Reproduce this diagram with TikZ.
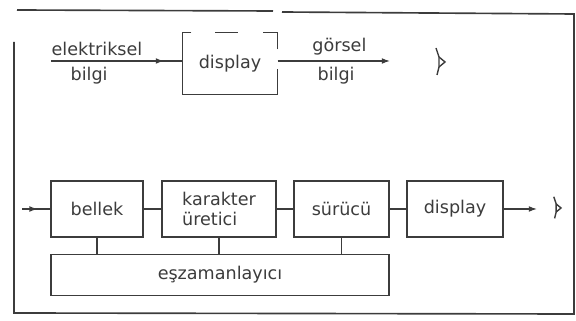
\documentclass[tikz,border=0pt]{standalone}
\usepackage{fontspec}
\setmainfont{DejaVu Sans}
\usepackage{xcolor}
\definecolor{ink}{RGB}{60,60,60}
\usetikzlibrary{arrows.meta,positioning,decorations.markings}

\begin{document}
\begin{tikzpicture}[x=0.03cm,y=-0.03cm,color=ink,line width=1.1pt,
    font=\fontsize{15}{17}\selectfont,
    blok/.style={draw,minimum height=1.68cm,inner sep=2pt},
    ok/.style={-{Latex[length=7pt,width=5pt]}},
    okorta/.style={postaction={decorate},decoration={markings,mark=at position #1 with {\arrow{Latex[length=7pt,width=5pt]}}}},
    goz/.pic={\draw[line width=1.2pt] (-4,-14) -- (-1,-5) -- (-1,5) -- (-3,13);
              \draw[line width=1.2pt] (-1,-5) -- (5,0) -- (-1,5);}]
  \useasboundingbox (0,0) rectangle (576,321);
  % cerceve
  \draw[line width=1.4pt] (17,10) -- (273,11);
  \draw[line width=1.4pt] (282,12) -- (574,14) -- (574,314) -- (14,313) -- (14,42);
  % ust satir
  \node[minimum width=2.82cm,minimum height=1.83cm] (disp1) at (230,63.5) {display};
  \draw ([xshift=0.27cm]disp1.north west) -- (disp1.north west) -- (disp1.south west)
    -- (disp1.south east) -- ([yshift=0.78cm]disp1.south east);
  \draw ([yshift=-0.51cm]disp1.north east) -- (disp1.north east) -- ([xshift=-0.45cm]disp1.north east);
  \draw ([xshift=-0.45cm]disp1.north) -- ([xshift=0.24cm]disp1.north);
  \coordinate (girdi) at (51,61);
  \coordinate (cikti) at (390,61);
  \draw[okorta=0.86] (girdi) -- (girdi -| disp1.west)
    node[pos=0.35,above=1pt]{elektriksel} node[pos=0.29,below=1pt]{bilgi};
  \draw[ok] (disp1.east |- cikti) -- (cikti)
    node[pos=0.55,above=1pt]{görsel} node[pos=0.52,below=1pt]{bilgi};
  \pic at (440,62) {goz};
  % alt satir
  \node[blok,minimum width=2.76cm] (bellek) at (97,209) {bellek};
  \node[blok,minimum width=3.42cm,align=left] (karakter) at (219,209) {karakter\\üretici};
  \node[blok,minimum width=2.85cm] (surucu) at (341.5,209) {sürücü};
  \node[blok,minimum width=2.88cm] (disp2) at (455,209) {display};
  \node[draw,minimum width=10.14cm,minimum height=1.23cm] (esz) at (220,275) {eşzamanlayıcı};
  \coordinate (giris) at (22,209);
  \coordinate (cikis) at (537,209);
  \draw[okorta=0.55] (giris) -- (bellek.west);
  \draw (bellek) -- (karakter);
  \draw (karakter) -- (surucu);
  \draw (surucu) -- (disp2);
  \draw[ok] (disp2.east) -- (cikis);
  \foreach \b in {bellek,karakter,surucu}
    \draw (\b.south) -- (\b.south |- esz.north);
  \pic[scale=0.8] at (557,208) {goz};
\end{tikzpicture}
\end{document}
